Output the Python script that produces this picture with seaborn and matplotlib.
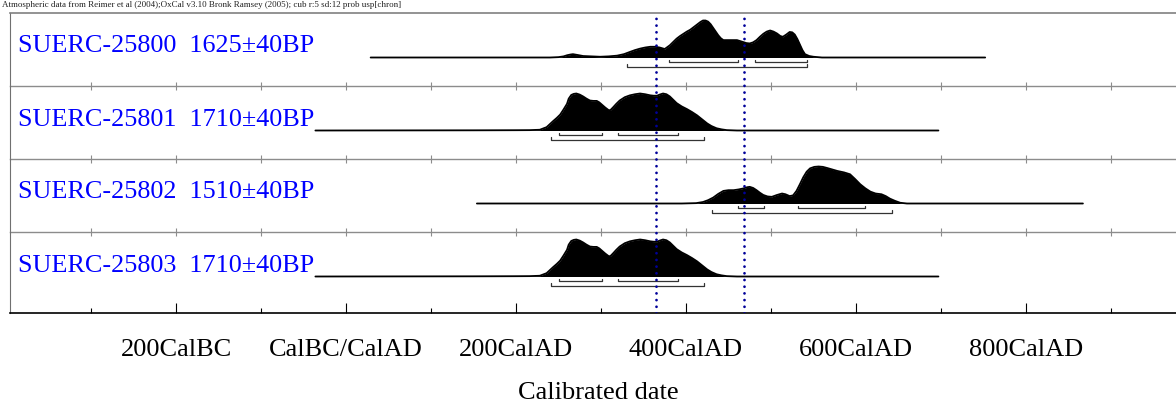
import numpy as np
import matplotlib
matplotlib.use("Agg")
import matplotlib.pyplot as plt
import seaborn as sns

# samples and their radiocarbon ages
names = ["SUERC-25800", "SUERC-25801", "SUERC-25802", "SUERC-25803"]
ages = ["1625\u00b140BP", "1710\u00b140BP", "1510\u00b140BP", "1710\u00b140BP"]

# calibrated probability curves (calendar year AD, relative probability)
s25800_years = [29, 240, 250, 256, 260, 264, 267, 272, 279, 289, 299, 309, 319, 327, 334, 340,
                346, 352, 358, 364, 369, 375, 381, 385, 389, 393, 397, 401, 405, 409, 413,
                417, 420, 423, 426, 429, 432, 435, 438, 441, 444, 452, 460, 467, 471, 475,
                479, 483, 487, 491, 495, 499, 503, 507, 511, 514, 518, 522, 525, 528, 531,
                534, 537, 540, 545, 550, 560, 752]
s25800_prob = [0, 0, 0.01, 0.03, 0.06, 0.08, 0.09, 0.07, 0.04, 0.03, 0.02, 0.03, 0.05, 0.09, 0.15, 0.20,
               0.24, 0.27, 0.29, 0.29, 0.27, 0.23, 0.33, 0.42, 0.51, 0.58, 0.64, 0.70, 0.75, 0.82, 0.89,
               0.96, 1.0, 1.0, 0.97, 0.90, 0.80, 0.70, 0.60, 0.52, 0.47, 0.47, 0.47, 0.42, 0.39, 0.38,
               0.41, 0.47, 0.56, 0.64, 0.70, 0.73, 0.70, 0.65, 0.58, 0.56, 0.62, 0.69, 0.68, 0.62, 0.50,
               0.35, 0.20, 0.09, 0.04, 0.02, 0, 0]

s25801_years = [-36, 150, 200, 216, 228, 236, 244, 248, 252, 256, 260, 262, 265, 268, 271, 275,
                279, 283, 287, 291, 295, 298, 301, 305, 309, 311, 314, 318, 322, 328, 334,
                340, 346, 352, 358, 362, 366, 369, 373, 377, 381, 385, 389, 395, 401, 407,
                413, 419, 425, 430, 436, 442, 448, 460, 697]
s25801_prob = [0, 0.005, 0.008, 0.01, 0.02, 0.09, 0.26, 0.34, 0.43, 0.57, 0.72, 0.86, 0.96, 0.99,
               1.0, 0.97, 0.92, 0.86, 0.81, 0.80, 0.80, 0.76, 0.70, 0.62, 0.55, 0.55, 0.62, 0.72,
               0.81, 0.90, 0.95, 0.98, 1.0, 0.98, 0.95, 0.94, 0.94, 0.97, 1.0, 0.98, 0.92, 0.83,
               0.74, 0.65, 0.58, 0.50, 0.41, 0.30, 0.19, 0.12, 0.06, 0.03, 0.01, 0, 0]

s25802_years = [154, 395, 412, 420, 426, 432, 438, 444, 450, 456, 462, 468, 472, 475, 479,
                483, 487, 491, 496, 501, 507, 513, 517, 522, 526, 530, 534, 538, 542, 546,
                551, 556, 561, 566, 572, 578, 586, 593, 599, 605, 611, 617, 623, 630, 635,
                640, 646, 652, 660, 867]
s25802_prob = [0, 0, 0.01, 0.04, 0.09, 0.16, 0.26, 0.34, 0.36, 0.36, 0.38, 0.41, 0.44, 0.45, 0.42,
               0.36, 0.29, 0.23, 0.19, 0.18, 0.23, 0.27, 0.25, 0.20, 0.22, 0.34, 0.52, 0.71, 0.86,
               0.95, 0.99, 1.0, 0.99, 0.96, 0.92, 0.88, 0.84, 0.79, 0.66, 0.52, 0.41, 0.32, 0.27,
               0.25, 0.20, 0.13, 0.07, 0.02, 0, 0]

# 25803 has the same age as 25801
s25803_years = s25801_years
s25803_prob = s25801_prob

# 68.2% and 95.4% ranges
s25800_1sig = [(380, 461), (481, 542)]
s25800_2sig = [(331, 542)]
s25801_1sig = [(251, 301), (320, 391)]
s25801_2sig = [(241, 421)]
s25802_1sig = [(461, 492), (532, 611)]
s25802_2sig = [(431, 642)]
s25803_1sig = s25801_1sig
s25803_2sig = s25801_2sig

# dotted reference dates
marker_years = [365, 468]

tick_years = [-200, 0, 200, 400, 600, 800]
tick_labels = ["200CalBC", "CalBC/CalAD", "200CalAD", "400CalAD", "600CalAD", "800CalAD"]
minor_years = [-300, -100, 100, 300, 500, 700, 900]

years = [s25800_years, s25801_years, s25802_years, s25803_years]
probs = [s25800_prob, s25801_prob, s25802_prob, s25803_prob]
one_sig = [s25800_1sig, s25801_1sig, s25802_1sig, s25803_1sig]
two_sig = [s25800_2sig, s25801_2sig, s25802_2sig, s25803_2sig]

sns.set_style("white")
plt.rcParams["font.family"] = ["Liberation Serif", "DejaVu Serif"]
plt.rcParams["text.color"] = "black"
plt.rcParams["xtick.color"] = "black"

W, H = 1176, 403
fig = plt.figure(figsize=(W / 100, H / 100), dpi=100)


def px_axes(left, top, right, bottom):
    a = fig.add_axes([left / W, 1 - bottom / H, (right - left) / W, (bottom - top) / H])
    a.patch.set_alpha(0)
    return a


def bracket(ax, a, b, y, h):
    ax.plot([a, a, b, b], [y + h, y, y, y + h], color="#333333", lw=0.9)


xlim = (-395.3, 976.5)
panel_tops = [13, 86, 159, 232]
panel_bottoms = [86, 159, 232, 313]
base_from_top = 44.5
peak = 37

for i in range(4):
    ax = px_axes(10, panel_tops[i], W, panel_bottoms[i])
    ax.set_xlim(xlim)
    below = panel_bottoms[i] - panel_tops[i] - base_from_top
    ax.set_ylim(-below, base_from_top)

    yrs = np.array(years[i])
    p = peak * np.array(probs[i])
    ax.fill_between(yrs, 0, p, color="black", lw=0)
    sns.lineplot(x=yrs, y=p, ax=ax, color="black", lw=1.3)

    for a, b in one_sig[i]:
        bracket(ax, a, b, -4.3, 2.3)
    for a, b in two_sig[i]:
        bracket(ax, a, b, -9.3, 2.7)

    ax.text(8 / 1166, 5, f"{names[i]}  {ages[i]}", transform=ax.get_yaxis_transform(),
            color="#0000ff", fontsize=18.8, va="baseline")

    ax.set_xlabel("")
    ax.set_ylabel("")
    ax.set_yticks([])
    ax.spines["right"].set_visible(False)
    ax.spines["left"].set_color("#707070")
    if i > 0:
        ax.spines["top"].set_visible(False)
    else:
        ax.spines["top"].set_color("#808080")
        ax.spines["top"].set_linewidth(1.2)

    if i < 3:
        ax.spines["bottom"].set_color("#8c8c8c")
        ax.spines["bottom"].set_linewidth(1.0)
        ax.set_xticks(np.arange(-300, 1000, 100))
        ax.tick_params(axis="x", direction="inout", length=6, width=0.8, color="#8c8c8c",
                       labelbottom=False, bottom=True)
    else:
        ax.spines["bottom"].set_color("black")
        ax.spines["bottom"].set_linewidth(1.2)
        ax.set_xticks(tick_years)
        ax.set_xticklabels(tick_labels)
        ax.set_xticks(minor_years, minor=True)
        ax.tick_params(axis="x", which="major", direction="in", length=7.5, width=0.8,
                       color="black", pad=18.5, labelsize=19, bottom=True)
        ax.tick_params(axis="x", which="minor", direction="in", length=3.8, width=0.8,
                       color="black", bottom=True)

# dotted lines across all panels
ov = px_axes(10, 16, W, 313)
ov.set_xlim(xlim)
ov.set_ylim(0, 1)
ov.axis("off")
for yr in marker_years:
    ov.plot([yr, yr], [0, 1], color="#000099", lw=2.0, linestyle=(0, (0.01, 2.4)),
            dash_capstyle="round")

fig.text(2 / W, 1 - 7 / H,
         "Atmospheric data from Reimer et al (2004);OxCal v3.10 Bronk Ramsey (2005); "
         "cub r:5 sd:12 prob usp[chron]", fontsize=6.5, va="baseline", color="#222222")
fig.text(598 / W, 1 - 399 / H, "Calibrated date", ha="center", va="baseline", fontsize=19)

fig.savefig("out.png", dpi=100)
